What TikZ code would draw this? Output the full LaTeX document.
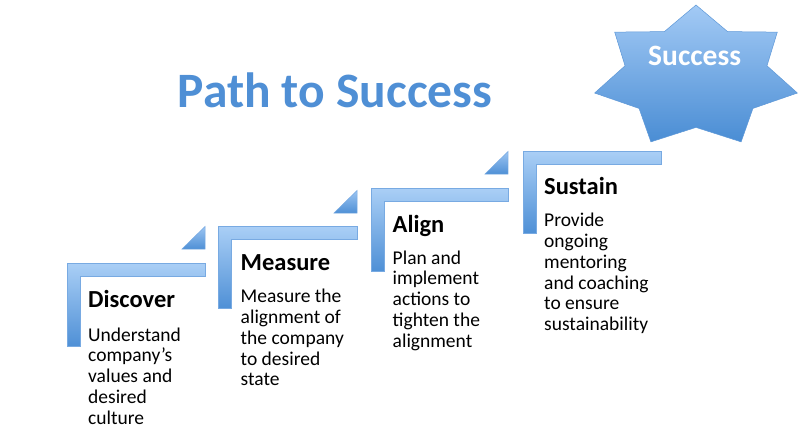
\documentclass[tikz,border=0pt]{standalone}
\usepackage{fontspec}
\setmainfont{Carlito}
\newcommand{\bodylines}[1]{\begin{tabular}[t]{@{}l@{}}#1\end{tabular}}
\begin{document}
\begin{tikzpicture}[x=1pt,y=-1pt,
  lbar/.style={top color=barTop,bottom color=barBot,draw=barEdge,line width=0.5pt,line join=miter},
  tri/.style={top color=triTop,bottom color=triBot,draw=barEdge,line width=0.5pt},
  head/.style={anchor=base west,inner sep=0pt,font=\fontsize{24.5}{27}\selectfont\bfseries,text=black},
  body/.style={anchor=base west,inner sep=0pt,font=\fontsize{19.5}{20.8}\selectfont,text=black},
  starsty/.style={top color=starTop,bottom color=starBot,draw=starEdge,line width=0.5pt,line join=miter}]
\definecolor{barTop}{HTML}{AACFF6}
\definecolor{barBot}{HTML}{4F90D6}
\definecolor{barEdge}{HTML}{78AAE2}
\definecolor{triTop}{HTML}{9CC5F2}
\definecolor{triBot}{HTML}{4F90D6}
\definecolor{starTop}{HTML}{A3CAF5}
\definecolor{starBot}{HTML}{4A8DD4}
\definecolor{starEdge}{HTML}{5E98D8}
\definecolor{titleC}{HTML}{4F8FD5}
\useasboundingbox[fill=white] (0,0) rectangle (800,440);

% steps: left, top, right, bottom
\foreach \l/\t/\r/\b in {67/263/205/346, 218/226/357/308, 371/188/508/271, 523/151/661/233}{
  \path[lbar] (\l,\t) -- (\r,\t) -- (\r,\t+13.5) -- (\l+13.5,\t+13.5) -- (\l+13.5,\b) -- (\l,\b) -- cycle;
}
% small triangles
\foreach \r/\t in {205/249, 357/213, 508/174}{
  \path[tri] (\r-23,\t) -- (\r,\t-22.5) -- (\r,\t) -- cycle;
}

% star
\path[starsty] plot[samples at={0,...,13}]
  ({696+104*(1-0.3*mod(\x,2))*cos(90+\x*180/7)},{77-72*(1-0.3*mod(\x,2))*sin(90+\x*180/7)}) -- cycle;
\node[anchor=base west,inner sep=0pt,font=\fontsize{29.5}{32}\selectfont\bfseries,text=white] (success) at (648,65) {Success};

% title
\node[anchor=base west,inner sep=0pt,font=\fontsize{49.5}{54}\selectfont\bfseries,text=titleC] (title) at (177.5,107) {Path to Success};

% headings and bodies
\node[head] (h1) at (88,307) {Discover};
\node[body] (b1) at (88,341) {\bodylines{Understand\\company’s\\values and\\desired\\culture}};
\node[head] (h2) at (240.5,270) {Measure};
\node[body] (b2) at (240.5,302.7) {\bodylines{Measure the\\alignment of\\the company\\to desired\\state}};
\node[head] (h3) at (392.5,232.7) {Align};
\node[body] (b3) at (392.5,264) {\bodylines{Plan and\\implement\\actions to\\tighten the\\alignment}};
\node[head] (h4) at (544,194.3) {Sustain};
\node[body] (b4) at (544,226.7) {\bodylines{Provide\\ongoing\\mentoring\\and coaching\\to ensure\\sustainability}};
\end{tikzpicture}
\end{document}
